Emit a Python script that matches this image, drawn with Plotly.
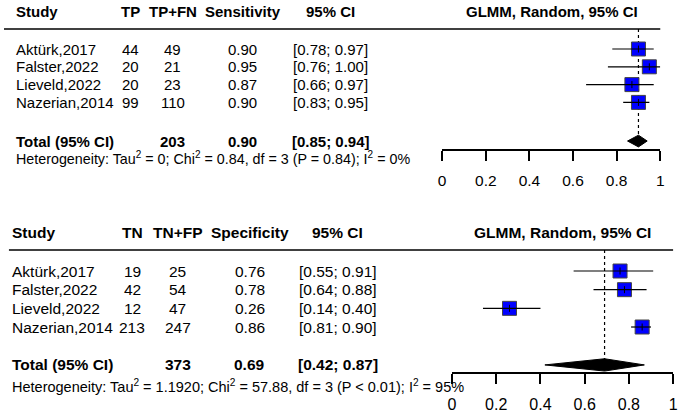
import plotly.graph_objects as go

W, H = 685, 413

# ---------------- data ----------------
studies = ["Aktürk,2017", "Falster,2022", "Lieveld,2022", "Nazerian,2014"]

tp = [44, 20, 20, 99]
tp_fn = [49, 21, 23, 110]
sens = [0.90, 0.95, 0.87, 0.90]
sens_lo = [0.78, 0.76, 0.66, 0.83]
sens_hi = [0.97, 1.00, 0.97, 0.95]
sens_total_n = 203
sens_total = [0.90, 0.85, 0.94]
sens_het = "Heterogeneity: Tau<sup>2</sup> = 0; Chi<sup>2</sup> = 0.84, df = 3 (P = 0.84); I<sup>2</sup> = 0%"

tn = [19, 42, 12, 213]
tn_fp = [25, 54, 47, 247]
spec = [0.76, 0.78, 0.26, 0.86]
spec_lo = [0.55, 0.64, 0.14, 0.81]
spec_hi = [0.91, 0.88, 0.40, 0.90]
spec_total_n = 373
spec_total = [0.69, 0.42, 0.87]
spec_het = "Heterogeneity: Tau<sup>2</sup> = 1.1920; Chi<sup>2</sup> = 57.88, df = 3 (P < 0.01); I<sup>2</sup> = 95%"

tick_vals = [0, 0.2, 0.4, 0.6, 0.8, 1]
tick_text = ["0", "0.2", "0.4", "0.6", "0.8", "1"]

FONT = "Liberation Sans, Arial, sans-serif"
BLUE = "#0000FF"

fig = go.Figure()
annotations = []
shapes = []


def panel(xa, ya, counts, totals_n, tot_n, est, lo, hi, total, het, hdr, cols, fs, hfs,
          total_row, het_row, hdr_row, line_row, line_x, glmm_x, study_x):
    rows = list(range(1, len(studies) + 1))
    # dotted reference line
    fig.add_trace(go.Scatter(x=[total[0], total[0]], y=[line_row, total_row],
                             mode="lines", line=dict(color="black", width=1.2, dash="dot"),
                             xaxis=xa, yaxis=ya, hoverinfo="skip", showlegend=False,
                             cliponaxis=False))
    # squares
    fig.add_trace(go.Scatter(x=est, y=rows, mode="markers",
                             marker=dict(symbol="square", size=14, color=BLUE,
                                         line=dict(color="#444444", width=1)),
                             xaxis=xa, yaxis=ya, showlegend=False, cliponaxis=False))
    # CI lines
    for l, h, r in zip(lo, hi, rows):
        fig.add_trace(go.Scatter(x=[l, h], y=[r, r], mode="lines",
                                 line=dict(color="black", width=1.2),
                                 xaxis=xa, yaxis=ya, showlegend=False, cliponaxis=False))
    fig.add_trace(go.Scatter(x=est, y=rows, mode="markers",
                             marker=dict(symbol="line-ns", size=5,
                                         line=dict(color="black", width=1)),
                             xaxis=xa, yaxis=ya, showlegend=False, cliponaxis=False))
    # diamond
    dh = 0.33
    fig.add_trace(go.Scatter(x=[total[1], total[0], total[2], total[0], total[1]],
                             y=[total_row, total_row - dh, total_row, total_row + dh, total_row],
                             mode="lines", fill="toself", fillcolor="black",
                             line=dict(color="black", width=1),
                             xaxis=xa, yaxis=ya, showlegend=False, cliponaxis=False))

    c_n, c_tot, c_est, c_ci = cols

    def txt(x, y, s, anchor="center", size=fs):
        annotations.append(dict(x=x / W, y=y, xref="paper", yref=ya, text=s,
                                showarrow=False, xanchor=anchor, yanchor="middle",
                                font=dict(family=FONT, size=size, color="black")))

    # headers
    txt(study_x, hdr_row, "<b>Study</b>", "left")
    txt(c_n, hdr_row, "<b>%s</b>" % hdr[0])
    txt(c_tot, hdr_row, "<b>%s</b>" % hdr[1])
    txt(c_est, hdr_row, "<b>%s</b>" % hdr[2])
    txt(c_ci, hdr_row, "<b>95% CI</b>")
    txt(glmm_x, hdr_row, "<b>GLMM, Random, 95% CI</b>")
    # rows
    for s, n, t, e, l, h, r in zip(studies, counts, totals_n, est, lo, hi, rows):
        txt(study_x, r, s, "left")
        txt(c_n, r, str(n))
        txt(c_tot, r, str(t))
        txt(c_est, r, "%.2f" % e)
        txt(c_ci, r, "[%.2f; %.2f]" % (l, h))
    txt(study_x, total_row, "<b>Total (95% CI)</b>", "left")
    txt(c_tot, total_row, "<b>%d</b>" % tot_n)
    txt(c_est, total_row, "<b>%.2f</b>" % total[0])
    txt(c_ci, total_row, "<b>[%.2f; %.2f]</b>" % (total[1], total[2]))
    txt(study_x, het_row, het, "left", hfs)
    # header rule
    shapes.append(dict(type="line", xref="paper", yref=ya,
                       x0=line_x[0] / W, x1=line_x[1] / W, y0=line_row, y1=line_row,
                       line=dict(color="black", width=1.5)))


panel("x", "y", tp, tp_fn, sens_total_n, sens, sens_lo, sens_hi, sens_total, sens_het,
      ["TP", "TP+FN", "Sensitivity"], [128, 171, 242, 331], 15, 14.3,
      total_row=6.17, het_row=7.1, hdr_row=-1.107, line_row=-0.124,
      line_x=(0, 665), glmm_x=555, study_x=10)
panel("x2", "y2", tn, tn_fp, spec_total_n, spec, spec_lo, spec_hi, spec_total, spec_het,
      ["TN", "TN+FP", "Specificity"], [130, 176, 249, 338], 15.5, 14.5,
      total_row=6.03, het_row=7.16, hdr_row=-1.06, line_row=-0.125,
      line_x=(5, 678), glmm_x=566, study_x=6)

axis_common = dict(range=[0, 1], showgrid=False, zeroline=False, showline=True,
                   linecolor="black", linewidth=1.5, ticks="outside", ticklen=10,
                   tickwidth=1.5, tickcolor="black", tickvals=tick_vals, ticktext=tick_text,
                   ticklabelstandoff=7, fixedrange=True)

fig.update_layout(
    width=W, height=H, margin=dict(l=0, r=0, t=0, b=0),
    paper_bgcolor="white", plot_bgcolor="white", showlegend=False,
    xaxis=dict(domain=[444 / W, 665 / W], anchor="free", position=1 - 150 / H,
               tickfont=dict(family=FONT, size=15.5, color="black"), **axis_common),
    yaxis=dict(domain=[1 - 206 / H, 1], range=[9.82, -1.753], visible=False,
               anchor="x", fixedrange=True),
    xaxis2=dict(domain=[454 / W, 678 / W], anchor="free", position=1 - 373 / H,
                tickfont=dict(family=FONT, size=16, color="black"), **axis_common),
    yaxis2=dict(domain=[0, 1 - 206 / H], range=[8.606, -2.482], visible=False,
                anchor="x2", fixedrange=True),
    annotations=annotations, shapes=shapes,
)

fig.write_html("out.html", config={"displayModeBar": False},
               post_script="document.body.style.margin='0';document.body.style.overflow='hidden';")
